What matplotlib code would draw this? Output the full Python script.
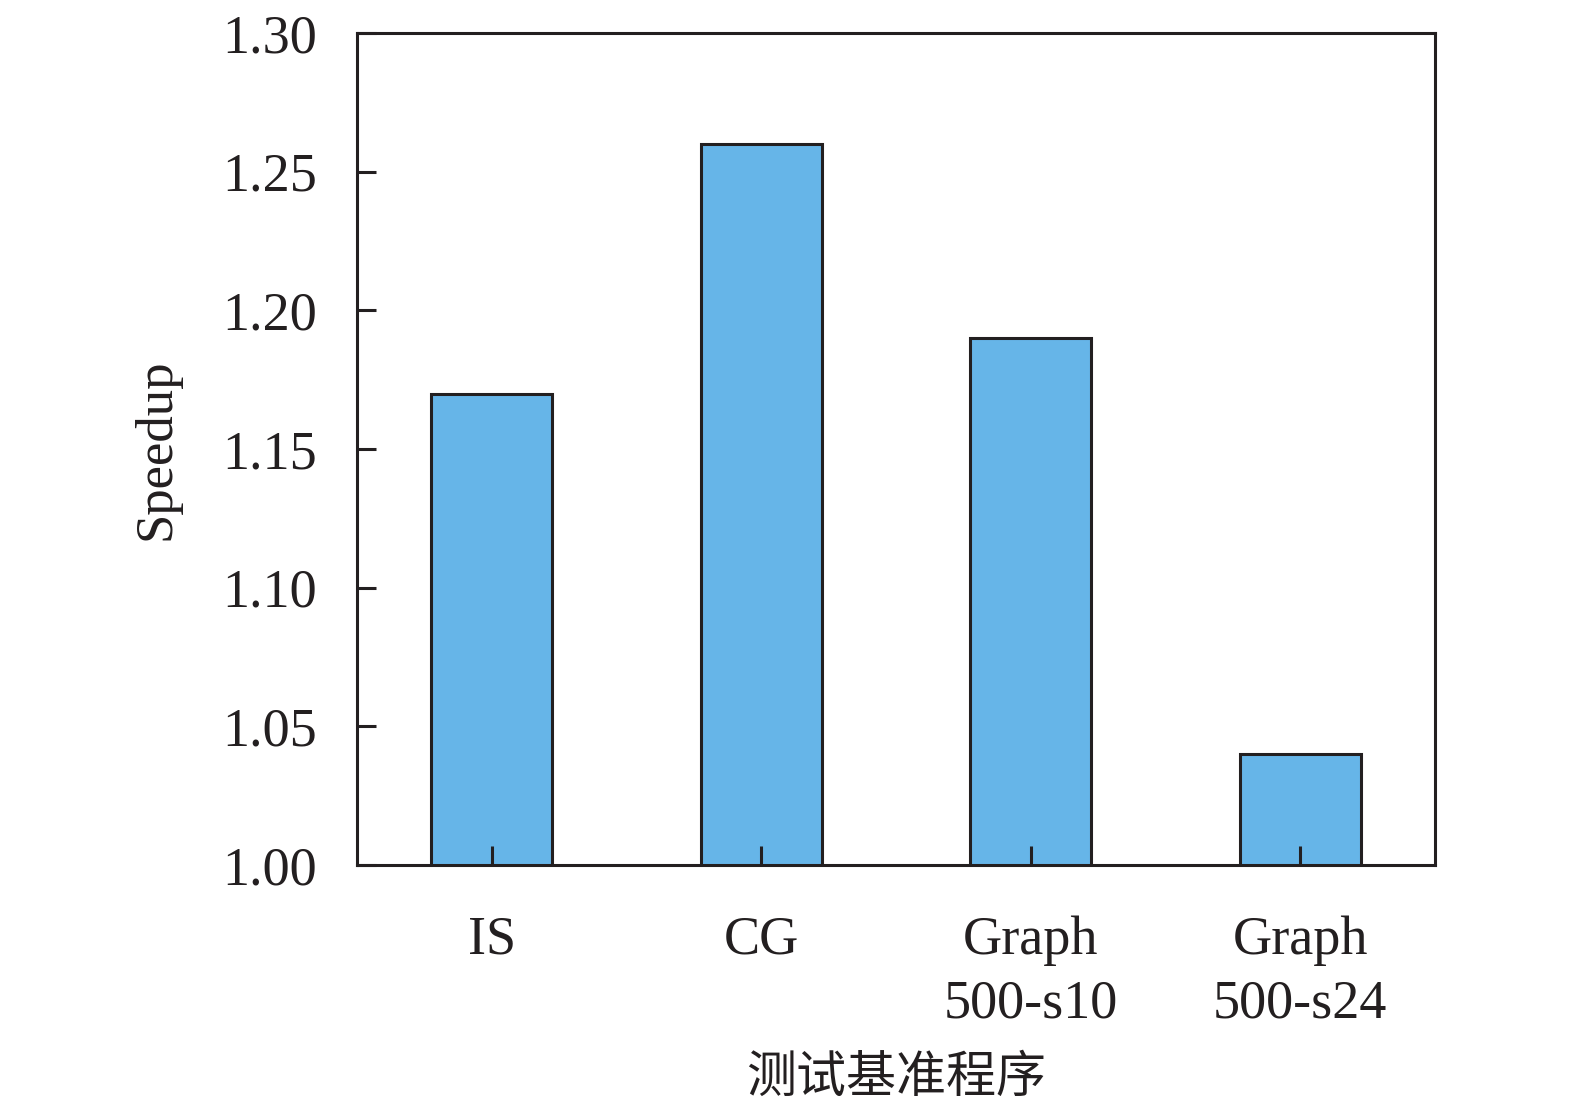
import matplotlib
matplotlib.use('Agg')
import matplotlib.pyplot as plt
import numpy as np

# data
benchmarks = ['IS', 'CG', 'Graph\n500-s10', 'Graph\n500-s24']
speedup = [1.17, 1.26, 1.19, 1.04]
yticks = [1.00, 1.05, 1.10, 1.15, 1.20, 1.25, 1.30]

plt.rcParams['font.family'] = ['Liberation Serif', 'Noto Sans CJK SC']
plt.rcParams['axes.linewidth'] = 2.2

fig = plt.figure(figsize=(15.75, 11.12), dpi=100)
ax = fig.add_axes([0.2267, 0.2221, 0.6844, 0.7482])

x = np.arange(len(benchmarks))
ax.bar(x, speedup, width=0.45, bottom=0, color='#66b5e8',
       edgecolor='#231f20', linewidth=2.2, zorder=2)

ax.set_xlim(-0.5, 3.5)
ax.set_ylim(1.00, 1.30)
ax.set_yticks(yticks)
ax.set_yticklabels([f'{v:.2f}' for v in yticks])
ax.set_xticks(x)
ax.set_xticklabels(benchmarks, linespacing=1.35)

for s in ax.spines.values():
    s.set_color('#231f20')
ax.tick_params(axis='both', direction='in', length=14, width=2.2,
               color='#231f20', labelsize=39, labelcolor='#231f20',
               top=False, right=False, zorder=3)
ax.tick_params(axis='x', pad=36)
ax.tick_params(axis='y', pad=29)
ax.set_axisbelow(False)

ax.set_ylabel('Speedup', fontsize=38, color='#231f20', labelpad=30)
ax.set_xlabel('测试基准程序', fontsize=36, color='#231f20',
              family=['Noto Sans CJK SC'], labelpad=16)

fig.savefig('out.png', dpi=100)
